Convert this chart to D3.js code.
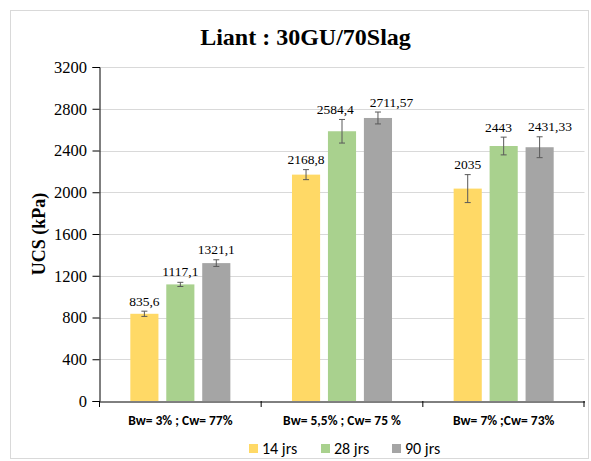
<!DOCTYPE html>
<html><head><meta charset="utf-8">
<script src="https://cdn.jsdelivr.net/npm/d3@7"></script>
<style>body{margin:0;background:#fff}</style>
</head><body>
<svg id="c" width="591" height="461"></svg>
<script>
const categories = ["Bw= 3% ; Cw= 77%", "Bw= 5,5% ; Cw= 75 %", "Bw= 7% ;Cw= 73%"];
const seriesNames = ["14 jrs", "28 jrs", "90 jrs"];
const values14 = [835.6, 2168.8, 2035];
const values28 = [1117.1, 2584.4, 2443];
const values90 = [1321.1, 2711.57, 2431.33];
const err14 = [25, 48, 134];
const err28 = [20, 113, 85];
const err90 = [32, 57, 100];
const labels14 = ["835,6", "2168,8", "2035"];
const labels28 = ["1117,1", "2584,4", "2443"];
const labels90 = ["1321,1", "2711,57", "2431,33"];
const yTicks = [0, 400, 800, 1200, 1600, 2000, 2400, 2800, 3200];
const colors = ["#FFD966", "#A9D18E", "#A5A5A5"];

const SERIF = "Liberation Serif";
const SANS = "Carlito";

const series = [
  {name: seriesNames[0], vals: values14, err: err14, labels: labels14},
  {name: seriesNames[1], vals: values28, err: err28, labels: labels28},
  {name: seriesNames[2], vals: values90, err: err90, labels: labels90}
];

const svg = d3.select("#c");
svg.append("rect").attr("x", 10.5).attr("y", 10.5).attr("width", 578).attr("height", 448)
  .attr("fill", "#fff").attr("stroke", "#D9D9D9");

const L = 99.5, R = 584.5, T = 67, B = 401;
const x0 = d3.scaleBand().domain(categories).range([L, R]).paddingInner(0).paddingOuter(0);
const x1 = d3.scaleBand().domain(seriesNames).range([0, x0.bandwidth()]).paddingInner(0.218).paddingOuter(0.857);
const y = d3.scaleLinear().domain([0, 3200]).range([B, T]);

svg.append("g").selectAll("line").data(yTicks.filter(d => d > 0)).join("line")
  .attr("x1", L).attr("x2", R).attr("y1", d => Math.round(y(d)) + 0.5).attr("y2", d => Math.round(y(d)) + 0.5)
  .attr("stroke", "#D9D9D9").attr("stroke-width", 1);

svg.append("text").attr("x", 305.5).attr("y", 45).attr("text-anchor", "middle")
  .style("font-family", SERIF).style("font-weight", "bold").style("font-size", "24px")
  .text("Liant : 30GU/70Slag");

const yAxis = d3.axisLeft(y).tickValues(yTicks).tickSize(7).tickFormat(d3.format("d"));
const gy = svg.append("g").attr("transform", `translate(${L},0)`).call(yAxis);
gy.attr("font-family", null).attr("font-size", null);
gy.select(".domain").attr("stroke", "#000");
gy.selectAll(".tick line").attr("stroke", "#000");
gy.selectAll(".tick text").style("font-family", SERIF).style("font-size", "16.5px").attr("fill", "#000").attr("x", -12.5);

svg.append("text").attr("transform", `translate(45,${(T + B) / 2}) rotate(-90)`)
  .attr("text-anchor", "middle").style("font-family", SERIF).style("font-weight", "bold")
  .style("font-size", "18px").text("UCS (kPa)");

const labelNodes = categories.map(() => []);
const groups = svg.append("g").selectAll("g").data(series).join("g").attr("fill", (d, i) => colors[i]);
groups.each(function(s, si) {
  const g = d3.select(this);
  const data = categories.map((c, ci) => ({c, ci, v: s.vals[ci], e: s.err[ci], lab: s.labels[ci]}));
  g.selectAll("rect").data(data).join("rect")
    .attr("x", d => x0(d.c) + x1(s.name)).attr("width", x1.bandwidth())
    .attr("y", d => y(d.v)).attr("height", d => y(0) - y(d.v));
  const cx = d => x0(d.c) + x1(s.name) + x1.bandwidth() / 2;
  const eb = g.selectAll("g.eb").data(data).join("g").attr("class", "eb").attr("stroke", "#595959").attr("stroke-width", 1);
  eb.append("line").attr("x1", cx).attr("x2", cx).attr("y1", d => y(d.v + d.e)).attr("y2", d => y(d.v - d.e));
  eb.append("line").attr("x1", d => cx(d) - 3).attr("x2", d => cx(d) + 3).attr("y1", d => y(d.v + d.e)).attr("y2", d => y(d.v + d.e));
  eb.append("line").attr("x1", d => cx(d) - 3).attr("x2", d => cx(d) + 3).attr("y1", d => y(d.v - d.e)).attr("y2", d => y(d.v - d.e));
  g.selectAll("text").data(data).join("text")
    .attr("x", cx).attr("y", d => Math.min(y(d.v) - 8, y(d.v + d.e) - 5.5))
    .attr("text-anchor", "middle").style("font-family", SERIF).style("font-size", "13.5px")
    .attr("fill", "#000").text(d => d.lab)
    .each(function(d) { labelNodes[d.ci].push(this); });
});

// nudge overlapping value labels apart (within a category)
labelNodes.forEach(nodes => {
  for (let i = 0; i < nodes.length - 1; i++) {
    const a = nodes[i], b = nodes[i + 1];
    const ax = +a.getAttribute("x"), bx = +b.getAttribute("x");
    const ay = +a.getAttribute("y"), by = +b.getAttribute("y");
    const wa = a.getComputedTextLength(), wb = b.getComputedTextLength();
    if (Math.abs(ay - by) < 13) {
      const need = wa / 2 + wb / 2 + 16 - (bx - ax);
      if (need > 0) {
        a.setAttribute("x", ax - need / 3);
        b.setAttribute("x", bx + need * 2 / 3);
      }
    }
  }
});

const xAxis = d3.axisBottom(x0).tickSize(0);
const gx = svg.append("g").attr("transform", `translate(0,${B + 0.5})`).call(xAxis);
gx.attr("font-family", null).attr("font-size", null);
gx.select(".domain").attr("stroke", "#000");
gx.selectAll(".tick text").style("font-family", SANS).style("font-weight", "bold").style("font-size", "13.5px").attr("fill", "#000").attr("y", 19).attr("dy", "0.35em");
svg.append("g").selectAll("line").data([L, R - 0.5].concat(categories.slice(1).map(c => x0(c)))).join("line")
  .attr("x1", d => d).attr("x2", d => d).attr("y1", B).attr("y2", B + 6).attr("stroke", "#000");

const legX = [249, 321, 392];
const leg = svg.append("g").selectAll("g").data(seriesNames).join("g")
  .attr("transform", (d, i) => `translate(${legX[i]},448.5)`);
leg.append("rect").attr("x", 0).attr("y", -4.5).attr("width", 9).attr("height", 9).attr("fill", (d, i) => colors[i]);
leg.append("text").attr("x", 13).attr("y", 0).attr("dy", "0.35em").style("font-family", SANS)
  .style("font-size", "16px").attr("fill", "#000").text(d => d);
</script>
</body></html>
